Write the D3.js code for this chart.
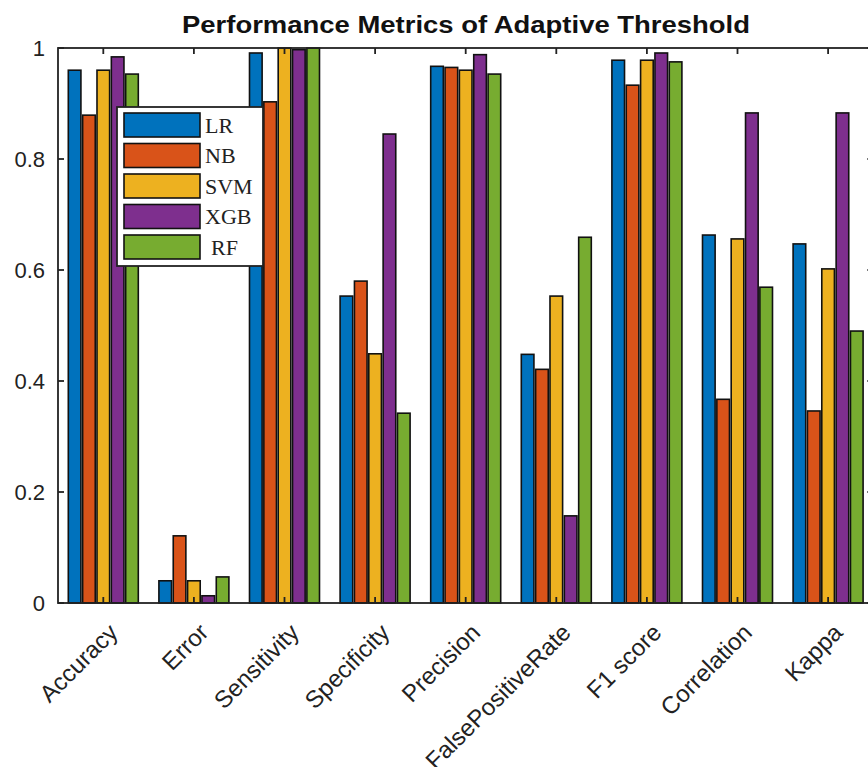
<!DOCTYPE html>
<html><head><meta charset="utf-8">
<script src="https://cdn.jsdelivr.net/npm/d3@7"></script>
<style>body{margin:0;background:#fff}svg{display:block}</style>
</head><body><svg id="c" width="868" height="767"></svg>
<script>
const categories = ["Accuracy","Error","Sensitivity","Specificity","Precision","FalsePositiveRate","F1 score","Correlation","Kappa"];
const seriesNames = ["LR","NB","SVM","XGB","RF"];
const LR  = [0.960,0.040,0.991,0.553,0.967,0.448,0.978,0.663,0.647];
const NB  = [0.879,0.121,0.903,0.580,0.965,0.421,0.933,0.367,0.346];
const SVM = [0.960,0.040,1.000,0.449,0.960,0.553,0.978,0.656,0.602];
const XGB = [0.984,0.013,0.997,0.845,0.988,0.157,0.991,0.883,0.883];
const RF  = [0.953,0.047,1.000,0.342,0.953,0.659,0.975,0.569,0.490];
const yTicks = [0,0.2,0.4,0.6,0.8,1];
const yTickLabels = ["0","0.2","0.4","0.6","0.8","1"];
const chartTitle = "Performance Metrics of Adaptive Threshold";
const seriesValues = [LR,NB,SVM,XGB,RF];
const colors = ["#0072BD","#D95319","#EDB120","#7E2F8E","#77AC30"];

(function(){
const svg = d3.select("#c");
const pL = 58, pR = 58 + 9*90.6, pT = 48, pB = 603;
const x0 = d3.scaleBand().domain(categories).range([pL,pR]).padding(0);
const bw = x0.bandwidth();
const groupW = 70;
const x1 = d3.scaleBand().domain(seriesNames).range([(bw-groupW)/2,(bw+groupW)/2]).paddingInner(0.12).paddingOuter(0);
const y = d3.scaleLinear().domain([0,1]).range([pB,pT]);

const g = svg.append("g");
categories.forEach((c,i)=>{
  seriesNames.forEach((s,j)=>{
    const v = seriesValues[j][i];
    g.append("rect")
      .attr("x", x0(c)+x1(s))
      .attr("y", y(v))
      .attr("width", x1.bandwidth())
      .attr("height", y(0)-y(v))
      .attr("fill", colors[j])
      .attr("stroke","#111").attr("stroke-width",1.6);
  });
});

const ax = svg.append("g").attr("stroke","#222").attr("stroke-width",1.8).attr("fill","none");
ax.append("rect").attr("x",pL).attr("y",pT).attr("width",pR-pL).attr("height",pB-pT);
yTicks.forEach(t=>{
  ax.append("line").attr("x1",pL).attr("x2",pL+6).attr("y1",y(t)).attr("y2",y(t));
  ax.append("line").attr("x1",pR).attr("x2",pR-6).attr("y1",y(t)).attr("y2",y(t));
});
categories.forEach(c=>{
  const cx = x0(c)+bw/2;
  ax.append("line").attr("x1",cx).attr("x2",cx).attr("y1",pT).attr("y2",pT+6);
  ax.append("line").attr("x1",cx).attr("x2",cx).attr("y1",pB).attr("y2",pB-6);
});

svg.append("g").selectAll("text").data(yTicks).join("text")
  .attr("x", pL-13).attr("y", d=>y(d)).attr("dy","0.36em")
  .attr("text-anchor","end")
  .attr("font-family","Liberation Sans, Arial, sans-serif").attr("font-size",22).attr("fill","#222")
  .text((d,i)=>yTickLabels[i]);

svg.append("g").selectAll("text").data(categories).join("text")
  .attr("transform", d=>`translate(${x0(d)+bw/2+10},${pB+25}) rotate(-45)`)
  .attr("text-anchor","end").attr("dy","0.35em")
  .attr("font-family","Liberation Sans, Arial, sans-serif").attr("font-size",24).attr("fill","#222")
  .text(d=>d);

svg.append("text").attr("x", 466).attr("y", 33).attr("text-anchor","middle")
  .attr("font-family","Liberation Sans, Arial, sans-serif").attr("font-weight","bold").attr("font-size",24).attr("fill","#111")
  .attr("textLength",568).attr("lengthAdjust","spacingAndGlyphs")
  .text(chartTitle);

const lg = svg.append("g");
lg.append("rect").attr("x",117).attr("y",107).attr("width",146).attr("height",159)
  .attr("fill","#fff").attr("stroke","#222").attr("stroke-width",1.8);
seriesNames.forEach((s,j)=>{
  const cy = 125 + j*30.5;
  lg.append("rect").attr("x",124).attr("y",cy-12).attr("width",76).attr("height",24)
    .attr("fill",colors[j]).attr("stroke","#111").attr("stroke-width",1.6);
  lg.append("text").attr("x", j===4?211:205).attr("y",cy).attr("dy","0.35em")
    .attr("font-family","Liberation Serif, Times New Roman, serif").attr("font-size",22).attr("fill","#222")
    .text(s);
});
})();
</script></body></html>
